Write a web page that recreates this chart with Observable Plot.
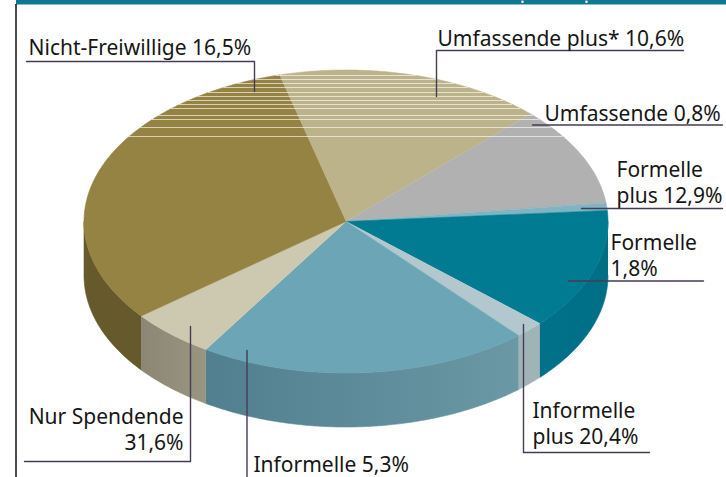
<!DOCTYPE html>
<html>
<head>
<meta charset="utf-8">
<script src="https://cdn.jsdelivr.net/npm/d3@7"></script>
<script src="https://cdn.jsdelivr.net/npm/@observablehq/plot@0.6"></script>
<style>
html,body{margin:0;padding:0;background:#fff}
svg{display:block}
</style>
</head>
<body>
<div id="chart"></div>
<script>
// Slice data, clockwise from the start angle
const categories = ["Nicht-Freiwillige","Umfassende plus*","Umfassende","Formelle plus","Formelle","Informelle plus","Informelle","Nur Spendende"];
const shares = [16.5,10.6,0.8,12.9,1.8,20.4,5.3,31.6];
const topColors = ["#bdb38a","#b1b1b1","#80b4c2","#007b91","#b2c8ce","#6ca5b5","#cdc8b0","#958343"];
// Side wall colours at the right and left end of each slice
const sideRight = ["#8d8667","#858585","#5f8794","#006f86","#a0b4b8","#6b98a4","#9a9580","#66592b"];
const sideLeft = ["#8d8667","#858585","#5f8794","#007189","#a0b4b8","#517f8f","#8c8774","#66592b"];

// Scan-line artefacts across the top of the pie
const stripeYs = [75,79,83,87,92,96,100,104,108,115,119,127,136];

// Pie geometry
const cx = 345.5, cy = 221, rx = 262, ry = 151.5, depth = 54, startDeg = -14.7;

// Annotations
const labelsStart = [
  {text:"Nicht-Freiwillige 16,5%", x:28, y:54},
  {text:"Umfassende plus* 10,6%", x:437, y:45},
  {text:"Umfassende 0,8%", x:544, y:120},
  {text:"Formelle\nplus 12,9%", x:616, y:202},
  {text:"Formelle\n1,8%", x:610, y:275},
  {text:"Informelle\nplus 20,4%", x:532, y:443},
  {text:"Informelle 5,3%", x:253, y:471}
];
const labelsEnd = [
  {text:"Nur Spendende\n31,6%", x:183, y:449}
];
const leaders = [
  [[26,61],[254,61],[254,91]],
  [[683,50],[436,50],[436,96]],
  [[532,124.5],[722,124.5]],
  [[581,208],[722,208]],
  [[568,280.5],[703,280.5]],
  [[523,324],[523,452],[649,452]],
  [[246.5,350],[246.5,477]],
  [[190,326],[190,461],[24,461]]
];

const rad = d => d * Math.PI / 180;
const ex = t => cx + rx * Math.sin(rad(t));
const ey = t => cy - ry * Math.cos(rad(t));

const total = d3.sum(shares);
let acc = startDeg;
const slices = shares.map((v,i) => {
  const a0 = acc, a1 = acc + v / total * 360;
  acc = a1;
  return {i, a0, a1};
});

const topPts = [], sideMarks = [];
for (const {i,a0,a1} of slices) {
  topPts.push({s:i, x:cx, y:cy, c:topColors[i]});
  for (const t of d3.range(a0, a1, 0.5).concat(a1)) topPts.push({s:i, x:ex(t), y:ey(t), c:topColors[i]});
  // Side wall: only the arc part that faces the viewer
  const b0 = Math.max(a0, 90), b1 = Math.min(a1, 270);
  if (b1 > b0) {
    const ts = d3.range(b0, b1, 0.5).concat(b1);
    const pts = ts.map(t => ({x:ex(t), y:ey(t)}))
      .concat(ts.slice().reverse().map(t => ({x:ex(t), y:ey(t) + depth})));
    sideMarks.push(Plot.line(pts, {x:"x",y:"y",fill:`url(#side${i})`,stroke:`url(#side${i})`,strokeWidth:0.6,curve:"linear"}));
  }
}

// Horizontal shading of the side walls
const gradients = () => {
  const defs = d3.create("svg:defs");
  shares.forEach((_, i) => {
    const g = defs.append("linearGradient").attr("id", `side${i}`).attr("x1", 0).attr("x2", 1).attr("y1", 0).attr("y2", 0);
    g.append("stop").attr("offset", 0).attr("stop-color", sideLeft[i]);
    g.append("stop").attr("offset", 1).attr("stop-color", sideRight[i]);
  });
  return defs.node();
};

const stripes = stripeYs.map(y => {
  const h = Math.sqrt(Math.max(0, 1 - ((cy - y) / ry) ** 2)) * rx;
  return {y, x1:cx - h, x2:cx + h};
});

const leaderPts = leaders.flatMap((pts,k) => pts.map(([x,y]) => ({k,x,y})));
const textStyle = {x:"x",y:"y",text:"text",lineAnchor:"bottom",lineHeight:1.2,fontSize:21,fontFamily:"Noto Sans",fill:"#161616"};

const chart = Plot.plot({
  width:726, height:477,
  marginTop:0, marginRight:0, marginBottom:0, marginLeft:0,
  x:{domain:[0,726], range:[0,726], axis:null},
  y:{domain:[0,477], range:[0,477], axis:null},
  color:{type:"identity"},
  style:{background:"#fff", overflow:"hidden"},
  marks:[
    gradients,
    Plot.rect([{x1:16,x2:726,y1:0,y2:4.5}], {x1:"x1",x2:"x2",y1:"y1",y2:"y2",fill:"#0a7a92"}),
    Plot.ruleX([15.5], {y1:4, y2:477, stroke:"#111", strokeWidth:1.5}),
    Plot.dot([522,586], {x:d=>d,y:()=>1.2,r:1.3,fill:"#fff"}),
    ...sideMarks,
    Plot.line(topPts, {x:"x",y:"y",z:"s",fill:"c",stroke:"c",strokeWidth:0.6,curve:"linear"}),
    Plot.ruleY(stripes, {y:"y",x1:"x1",x2:"x2",stroke:"#fff",strokeWidth:1.2,strokeOpacity:0.62}),
    Plot.line(leaderPts, {x:"x",y:"y",z:"k",stroke:"#453c55",strokeWidth:1.4,curve:"linear"}),
    Plot.text(labelsStart, {...textStyle,textAnchor:"start"}),
    Plot.text(labelsEnd, {...textStyle,textAnchor:"end"})
  ]
});
document.getElementById("chart").appendChild(chart);
</script>
</body>
</html>
